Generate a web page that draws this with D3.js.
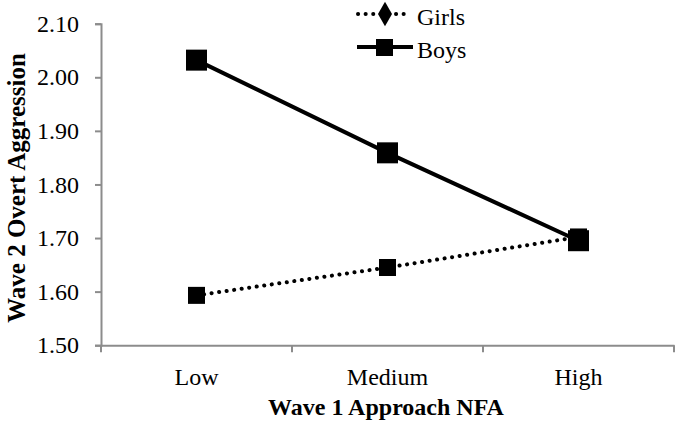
<!DOCTYPE html>
<html><head><meta charset="utf-8">
<script src="https://cdn.jsdelivr.net/npm/d3@7"></script>
</head><body style="margin:0"><svg id="c" width="680" height="430"></svg>
<script>
const categories = ["Low", "Medium", "High"];
const girls = [1.593, 1.645, 1.702];
const boys = [2.032, 1.859, 1.695];
const yTicks = [1.50, 1.60, 1.70, 1.80, 1.90, 2.00, 2.10];
const seriesNames = ["Girls", "Boys"];

const svg = d3.select("#c");
const x = d3.scaleBand().domain(categories).range([101, 674]);
const y = d3.scaleLinear().domain([1.5, 2.1]).range([345.2, 23.7]);
const axisColor = "#8c8c8c";
const FS = d => d.style("font-family", "'Liberation Serif'").style("font-size", "24px");

// y axis
const ya = svg.append("g").attr("transform", "translate(101,0)")
  .call(d3.axisLeft(y).tickValues(yTicks).tickSize(6).tickPadding(16).tickFormat(d3.format(".2f")));
ya.attr("font-family", null).attr("font-size", null);
ya.select(".domain").attr("stroke", axisColor).attr("stroke-width", 2);
ya.selectAll(".tick line").attr("stroke", axisColor).attr("stroke-width", 2);
ya.selectAll(".tick text").attr("fill", "#000").call(FS);

// x axis
const xa = svg.append("g").attr("transform", "translate(0,345.2)")
  .call(d3.axisBottom(x).tickSize(0).tickPadding(23));
xa.attr("font-family", null).attr("font-size", null);
xa.select(".domain").attr("stroke", axisColor).attr("stroke-width", 2);
xa.selectAll(".tick text").attr("fill", "#000").call(FS);
const bounds = categories.map(c => x(c)).concat([x.range()[1]]);
xa.selectAll(".btick").data(bounds).enter().append("line")
  .attr("x1", d => d).attr("x2", d => d).attr("y1", 0).attr("y2", 7)
  .attr("stroke", axisColor).attr("stroke-width", 2);

// axis titles
svg.append("text").attr("x", 386).attr("y", 415).attr("text-anchor", "middle")
  .style("font-weight", "bold").call(FS).text("Wave 1 Approach NFA");
svg.append("text").attr("transform", "translate(25,188) rotate(-90)").attr("text-anchor", "middle")
  .style("font-weight", "bold").call(FS).style("font-size", "25px").text("Wave 2 Overt Aggression");

const cx = c => x(c) + x.bandwidth() / 2;
const line = d3.line().x((d, i) => cx(categories[i])).y(d => y(d));

// girls
svg.append("path").datum(girls).attr("d", line).attr("fill", "none").attr("stroke", "#000")
  .attr("stroke-width", 4).attr("stroke-linecap", "round").attr("stroke-dasharray", "0.1 7.5");
svg.selectAll(".gm").data(girls).enter().append("rect")
  .attr("x", (d, i) => cx(categories[i]) - 8.5).attr("y", d => y(d) - 8.5)
  .attr("width", 17).attr("height", 17).attr("fill", "#000");

// boys
svg.append("path").datum(boys).attr("d", line).attr("fill", "none").attr("stroke", "#000").attr("stroke-width", 4);
svg.selectAll(".bm").data(boys).enter().append("rect")
  .attr("x", (d, i) => cx(categories[i]) - 10.5).attr("y", d => y(d) - 10.5)
  .attr("width", 21).attr("height", 21).attr("fill", "#000");

// legend
const lg = svg.append("g");
lg.append("line").attr("x1", 358).attr("x2", 405).attr("y1", 14).attr("y2", 14)
  .attr("stroke", "#000").attr("stroke-width", 4).attr("stroke-linecap", "round").attr("stroke-dasharray", "0.1 7.5");
lg.append("path").attr("d", d3.symbol(d3.symbolDiamond, 170)()).attr("transform", "translate(385,14)").attr("fill", "#000");
lg.append("text").attr("x", 417).attr("y", 25).call(FS).text(seriesNames[0]);
lg.append("line").attr("x1", 357).attr("x2", 413).attr("y1", 47).attr("y2", 47)
  .attr("stroke", "#000").attr("stroke-width", 4);
lg.append("rect").attr("x", 376).attr("y", 39).attr("width", 17).attr("height", 17).attr("fill", "#000");
lg.append("text").attr("x", 417).attr("y", 58).call(FS).text(seriesNames[1]);
</script></body></html>
